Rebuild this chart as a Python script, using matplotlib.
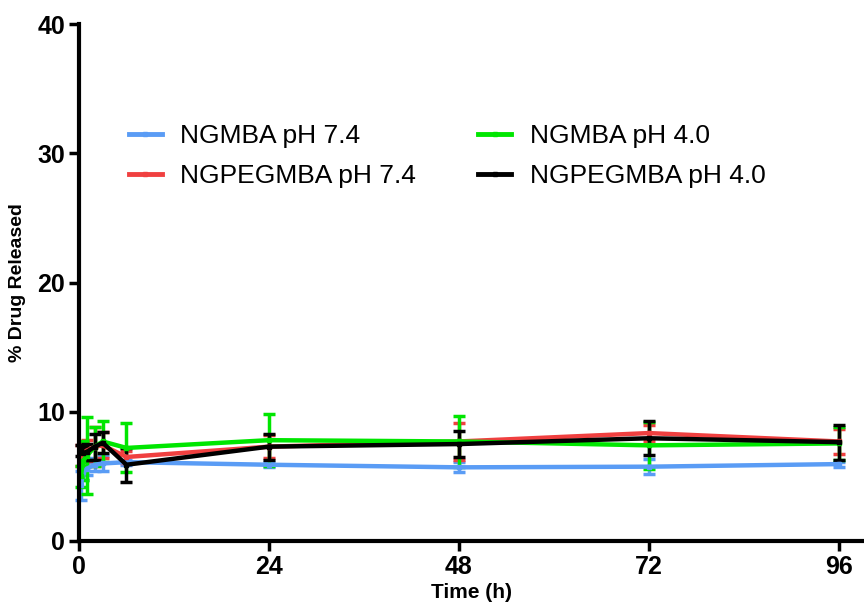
import matplotlib
matplotlib.use("Agg")
import matplotlib.pyplot as plt
from matplotlib.lines import Line2D

plt.rcParams['font.family'] = ['Liberation Sans', 'DejaVu Sans']

# time points (h)
times = [0.25, 0.5, 1, 2, 3, 6, 24, 48, 72, 96]

labels = ["NGMBA pH 7.4", "NGPEGMBA pH 7.4", "NGMBA pH 4.0", "NGPEGMBA pH 4.0"]
colors = ["#5a9cf5", "#f04040", "#00e600", "#000000"]

ngmba_74 = [4.3, 5.3, 5.6, 5.9, 6.0, 6.1, 5.9, 5.7, 5.75, 5.95]
ngmba_74_err = [1.1, 0.6, 0.5, 0.5, 0.6, 0.2, 0.2, 0.4, 0.6, 0.2]
ngpeg_74 = [6.6, 6.8, 7.0, 7.3, 7.4, 6.5, 7.3, 7.7, 8.35, 7.7]
ngpeg_74_err = [0.8, 0.7, 0.8, 1.5, 1.0, 0.5, 0.9, 1.4, 0.6, 1.0]
ngmba_40 = [5.0, 6.2, 6.6, 7.3, 7.7, 7.2, 7.8, 7.7, 7.4, 7.55]
ngmba_40_err = [0.8, 1.5, 3.0, 1.5, 1.6, 1.9, 2.0, 2.0, 1.8, 1.3]
ngpeg_40 = [7.0, 6.8, 6.9, 7.3, 7.6, 5.9, 7.3, 7.5, 7.95, 7.65]
ngpeg_40_err = [0.4, 0.5, 0.6, 1.0, 0.8, 1.3, 1.0, 1.0, 1.3, 1.35]

series = [ngmba_74, ngpeg_74, ngmba_40, ngpeg_40]
errors = [ngmba_74_err, ngpeg_74_err, ngmba_40_err, ngpeg_40_err]

fig = plt.figure(figsize=(8.64, 6.16), dpi=100)
ax = fig.add_axes([79 / 864, 75 / 616, 785 / 864, 517 / 616])

handles = []
for vals, errs, col, lab in zip(series, errors, colors, labels):
    ax.errorbar(times, vals, yerr=errs, color=col, lw=3.2, marker='s', ms=3,
                capsize=4, capthick=2.5, elinewidth=2.5, clip_on=False)
    handles.append(Line2D([], [], color=col, lw=3.5, marker='s', ms=3, label=lab))

ax.set_xlim(0, 99.2)
ax.set_ylim(0, 40)
ax.set_xticks([0, 24, 48, 72, 96])
ax.set_yticks([0, 10, 20, 30, 40])

for s in ['top', 'right']:
    ax.spines[s].set_visible(False)
for s in ['left', 'bottom']:
    ax.spines[s].set_linewidth(3)

ax.tick_params(axis='both', direction='out', length=7, width=2.5, labelsize=18, pad=3)
for t in ax.get_xticklabels() + ax.get_yticklabels():
    t.set_fontweight('bold')

ax.set_xlabel("Time (h)", fontsize=15, fontweight='bold', labelpad=3)
ax.set_ylabel("% Drug Released", fontsize=14, fontweight='bold', labelpad=8)

ax.legend(handles=handles, loc='upper left', bbox_to_anchor=(129 / 864, 1 - 124 / 616),
          bbox_transform=fig.transFigure, ncol=2, frameon=False, fontsize=19,
          borderpad=0, borderaxespad=0, handlelength=1.25, handletextpad=0.7,
          columnspacing=2.35, labelspacing=0.62)

fig.savefig("out.png", dpi=100)
